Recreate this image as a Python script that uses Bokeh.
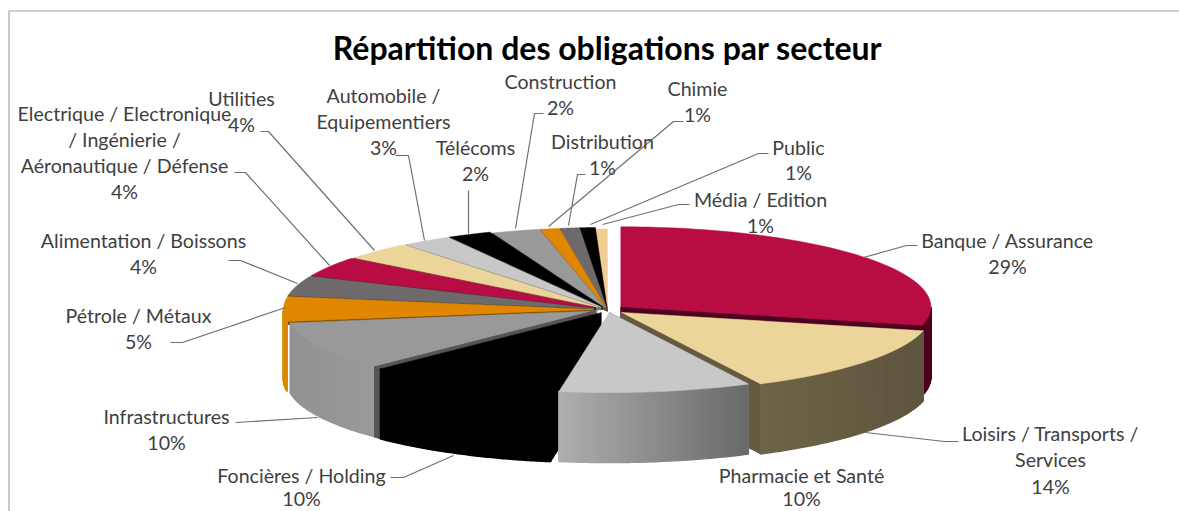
import numpy as np
from bokeh.plotting import figure
from bokeh.models import Range1d
from bokeh.core.properties import value
from bokeh.embed import file_html
from bokeh.resources import INLINE

# ---------- data ----------
title = "Répartition des obligations par secteur"
sectors = ["Banque / Assurance", "Loisirs / Transports / Services", "Pharmacie et Santé",
           "Foncières / Holding", "Infrastructures", "Pétrole / Métaux",
           "Alimentation / Boissons", "Electrique / Electronique / Ingénierie / Aéronautique / Défense",
           "Utilities", "Automobile / Equipementiers", "Télécoms", "Construction",
           "Distribution", "Chimie", "Public", "Média / Edition"]
shares = [28.7, 13.9, 10.0, 10.0, 10.0, 5.0, 4.0, 4.0, 3.6, 2.6, 2.3, 2.5, 1.0, 1.0, 0.8, 0.6]
pct_labels = ["29%", "14%", "10%", "10%", "10%", "5%", "4%", "4%", "4%", "3%", "2%", "2%", "1%", "1%", "1%", "1%"]

# ---------- style / layout ----------
top_colors = ["#b80d42", "#ecd59a", "#c8c8c8", "#000000", "#999999", "#e08600", "#6e6a6c", "#b80d42",
              "#ecd59a", "#c8c8c8", "#000000", "#999999", "#e08600", "#6e6a6c", "#000000", "#f1cd94"]
edge_colors = ["#4d0020", "#645a40", "#8a8a8a", "#555555", "#666666", "#7a4a00", "#3c3a3b", "#5e0722",
               "#7c704f", "#777777", "#333333", "#555555", "#7a4a00", "#3c3a3b", "#333333", "#8c7650"]
explode = [17, 18, 12, 14, 12, 14, 14, 14, 13, 12, 12, 8, 8, 8, 8, 2]
draw_order = [15, 14, 13, 12, 11, 10, 9, 8, 7, 6, 5, 4, 3, 0, 1, 2]
# wall colour at the left and right end of each visible outer wall
wall_shades = {0: ("#4d0020", "#4d0020"), 1: ("#6e6447", "#5e553e"), 2: ("#aeaeae", "#696969"),
               3: ("#000000", "#000000"), 4: ("#929292", "#9a9a9a"), 5: ("#d98a00", "#d98a00")}
CX, CY, RX, RY, DEPTH = 607, 309, 310, 80, 70

label_lines = [
    (1007, [240, 266], ["Banque / Assurance", "29%"]),
    (1050, [433, 459, 486], ["Loisirs / Transports /", "Services", "14%"]),
    (801, [475, 498], ["Pharmacie et Santé", "10%"]),
    (301, [475, 498], ["Foncières / Holding", "10%"]),
    (166, [416, 442], ["Infrastructures", "10%"]),
    (138, [315, 341], ["Pétrole / Métaux", "5%"]),
    (143, [240, 266], ["Alimentation / Boissons", "4%"]),
    (124, [113, 139, 165, 191], ["Electrique / Electronique", "/ Ingénierie /", "Aéronautique / Défense", "4%"]),
    (241, [98, 124], ["Utilities", "4%"]),
    (383, [95, 121, 147], ["Automobile /", "Equipementiers", "3%"]),
    (475, [147, 173], ["Télécoms", "2%"]),
    (560, [81, 107], ["Construction", "2%"]),
    (602, [141, 167], ["Distribution", "1%"]),
    (697, [88, 114], ["Chimie", "1%"]),
    (798, [147, 172], ["Public", "1%"]),
    (760, [199, 225], ["Média / Edition", "1%"]),
]
leaders = [
    ([917, 906, 863], [245, 245, 257]),
    ([958, 944, 865], [441, 441, 432]),
    ([390, 403, 453], [477, 477, 455]),
    ([235, 317], [422, 417]),
    ([170, 182, 285], [342, 342, 307]),
    ([228, 240, 297], [260, 260, 283]),
    ([234, 245, 329], [172, 172, 265]),
    ([260, 268, 374], [131, 131, 250]),
    ([395, 408, 424], [155, 155, 240]),
    ([468, 468], [190, 233]),
    ([543, 534, 515], [113, 113, 228]),
    ([585, 577, 568], [174, 174, 225]),
    ([683, 673, 548], [121, 121, 226]),
    ([768, 758, 590], [153, 153, 224]),
    ([689, 678, 602], [204, 204, 224]),
]

FONT = "Lato"
p = figure(width=1179, height=511, x_range=Range1d(0, 1179), y_range=Range1d(511, 0),
           output_backend="svg", toolbar_location=None, min_border=0,
           x_axis_location=None, y_axis_location=None)
p.grid.visible = False
p.outline_line_color = None

# chart frame
p.line([8.5, 8.5, 1179], [511, 10.5, 10.5], line_color="#a6a6a6", line_width=1.2)

# slice geometry from the shares
frac = np.array(shares) / np.sum(shares)
ends = np.cumsum(frac) * 2 * np.pi
starts = ends - frac * 2 * np.pi


def apex(i):
    mid = (starts[i] + ends[i]) / 2
    return CX + explode[i] * np.sin(mid), CY - explode[i] * np.cos(mid) * RY / RX


def rim(i, a):
    ax, ay = apex(i)
    return ax + RX * np.sin(a), ay - RY * np.cos(a)


def mix(c1, c2, t):
    a = [int(c1[k:k + 2], 16) for k in (1, 3, 5)]
    b = [int(c2[k:k + 2], 16) for k in (1, 3, 5)]
    return "#%02x%02x%02x" % tuple(int(round(u + (v - u) * t)) for u, v in zip(a, b))


for i in draw_order:
    ax, ay = apex(i)
    # radial cut faces
    if i == 3:  # visible cut faces of the black slice
        th = np.linspace(starts[i], ends[i], 40)
        xs, ys = rim(i, th)
        p.patch(list(xs - 6) + [ax - 6], list(ys - 2) + [ay - 2], color="#555555")
        ex, ey = rim(i, ends[i])
        p.patch([ex - 6, ex, ex, ex - 6], [ey - 2, ey, ey + DEPTH, ey + DEPTH - 2], color="#555555")
        sx, sy = rim(i, starts[i])
        p.patch([ax, sx, sx, ax], [ay, sy, sy + DEPTH, ay + DEPTH], color="#000000")
    elif i in (0, 1):
        ex, ey = rim(i, ends[i])
        p.patch([ax, ex, ex, ax], [ay, ey, ey + DEPTH, ay + DEPTH], color=edge_colors[i])
    else:
        sx, sy = rim(i, starts[i])
        p.patch([ax, sx, sx, ax], [ay, sy, sy + 3, ay + 3], color=edge_colors[i])
    # outer wall, split in strips to shade it
    a0, a1 = max(starts[i], np.pi / 2), min(ends[i], 3 * np.pi / 2)
    if a1 > a0 and i in wall_shades:
        edges = np.linspace(a0, a1, 41)
        x0, x1 = rim(i, a0)[0], rim(i, a1)[0]
        for k in range(40):
            th = np.linspace(edges[k], edges[k + 1], 3)
            xs, ys = rim(i, th)
            t = (xs[1] - min(x0, x1)) / (abs(x1 - x0) or 1)
            col = mix(wall_shades[i][0], wall_shades[i][1], float(np.clip(t, 0, 1)))
            p.patch(list(xs) + list(xs[::-1]), list(ys) + list(ys[::-1] + DEPTH),
                    fill_color=col, line_color=col, line_width=1.5)
    # top face
    th = np.linspace(starts[i], ends[i], 60)
    xs, ys = rim(i, th)
    p.patch([ax] + list(xs), [ay] + list(ys), color=top_colors[i], line_width=0.5)

# leader lines
for xs, ys in leaders:
    p.line(xs, ys, line_color="#6f6f6f", line_width=1.2)

# labels
for x, ys, lines in label_lines:
    p.text(x=[x] * len(lines), y=ys, text=lines, text_font=value(FONT), text_font_size="19.6px",
           text_color="#404040", text_align="center", text_baseline="middle")
p.text(x=[607], y=[47], text=[title], text_font=value(FONT), text_font_size="32px", text_font_style="bold",
       text_color="#000000", text_align="center", text_baseline="middle")

open("out.html", "w").write(file_html(p, INLINE))
